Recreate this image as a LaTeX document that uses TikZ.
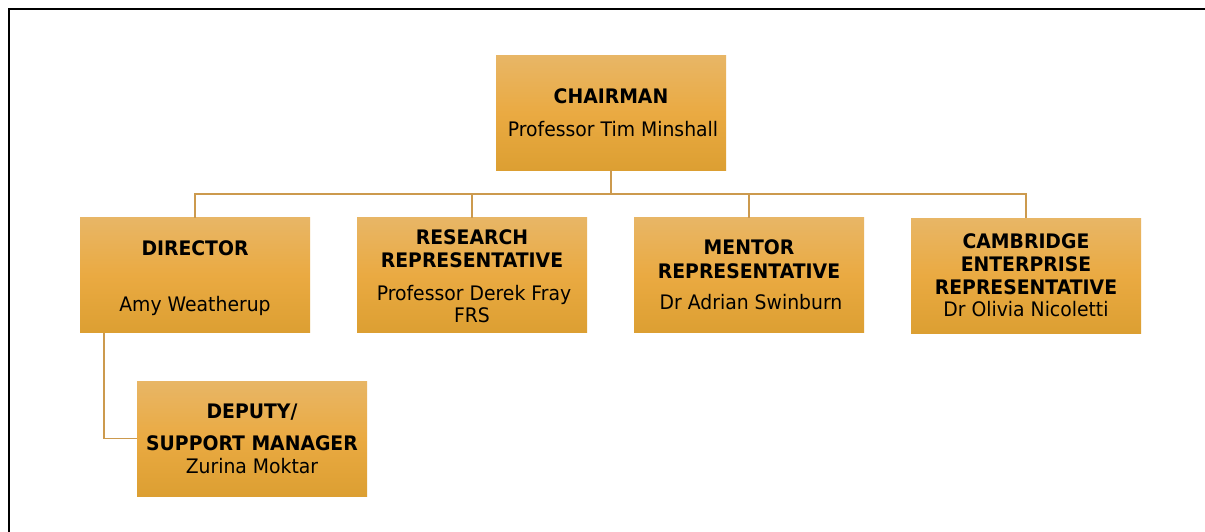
\documentclass[tikz,border=0pt]{standalone}
\usepackage{fontspec}
\setmainfont{DejaVu Sans}[FakeStretch=0.94]
\definecolor{linec}{HTML}{CC9A4E}
\definecolor{boxtop}{HTML}{E8B666}
\definecolor{boxmid}{HTML}{EAAA42}
\definecolor{boxbot}{HTML}{DC9F32}
\tikzset{
  box/.style={draw=none, inner sep=0pt, outer sep=0pt, minimum width=230pt, minimum height=115pt,
    top color=boxtop, bottom color=boxbot, middle color=boxmid},
  conn/.style={draw=linec, line width=1.4pt},
  ttl/.style={anchor=base, inner sep=0pt, font=\fontsize{20}{24}\selectfont\bfseries},
  nm/.style={anchor=base, inner sep=0pt, font=\fontsize{20}{24}\selectfont},
}
\begin{document}
\begin{tikzpicture}[x=1pt,y=-1pt]
\useasboundingbox (0,0) rectangle (1205,532);
\fill[white] (0,0) rectangle (1205,532);
\draw[line width=2.5pt] (9,560) |- (1230,9);

\node[box] (chair) at (611,113) {};
\node[box] (dir) at (195,275) {};
\node[box] (res) at (472,275) {};
\node[box] (men) at (749,275) {};
\node[box] (cam) at (1026,275.5) {};
\node[box] (dep) at (252,438.5) {};

\coordinate (bus) at (611,194);
\coordinate (dtap) at (104,333);
\draw[conn] (chair.south) -- (bus);
\draw[conn] (dir.north) |- (cam.north |- bus) -- (cam.north);
\draw[conn] (res.north) -- (res.north |- bus);
\draw[conn] (men.north) -- (men.north |- bus);
\draw[conn] (dtap) |- (dep.west);

\node[ttl] (t1) at (611,104) {CHAIRMAN};
\node[nm] (n1) at (613,137) {Professor Tim Minshall};

\node[ttl] (t2) at (195,255) {DIRECTOR};
\node[nm] (n2) at (195,311) {Amy Weatherup};

\node[ttl] (t3a) at (472,244) {RESEARCH};
\node[ttl] (t3b) at (472,267) {REPRESENTATIVE};
\node[nm] (n3a) at (474,300) {Professor Derek Fray};
\node[nm] (n3b) at (472,322) {FRS};

\node[ttl] (t4a) at (749,254) {MENTOR};
\node[ttl] (t4b) at (749,278) {REPRESENTATIVE};
\node[nm] (n4) at (751,309) {Dr Adrian Swinburn};

\node[ttl] (t5a) at (1026,248) {CAMBRIDGE};
\node[ttl] (t5b) at (1026,271) {ENTERPRISE};
\node[ttl] (t5c) at (1026,294) {REPRESENTATIVE};
\node[nm] (n5) at (1026,316) {Dr Olivia Nicoletti};

\node[ttl] (t6a) at (252,418) {DEPUTY/};
\node[ttl] (t6b) at (252,450) {SUPPORT MANAGER};
\node[nm] (n6) at (252,473) {Zurina Moktar};
\end{tikzpicture}
\end{document}
